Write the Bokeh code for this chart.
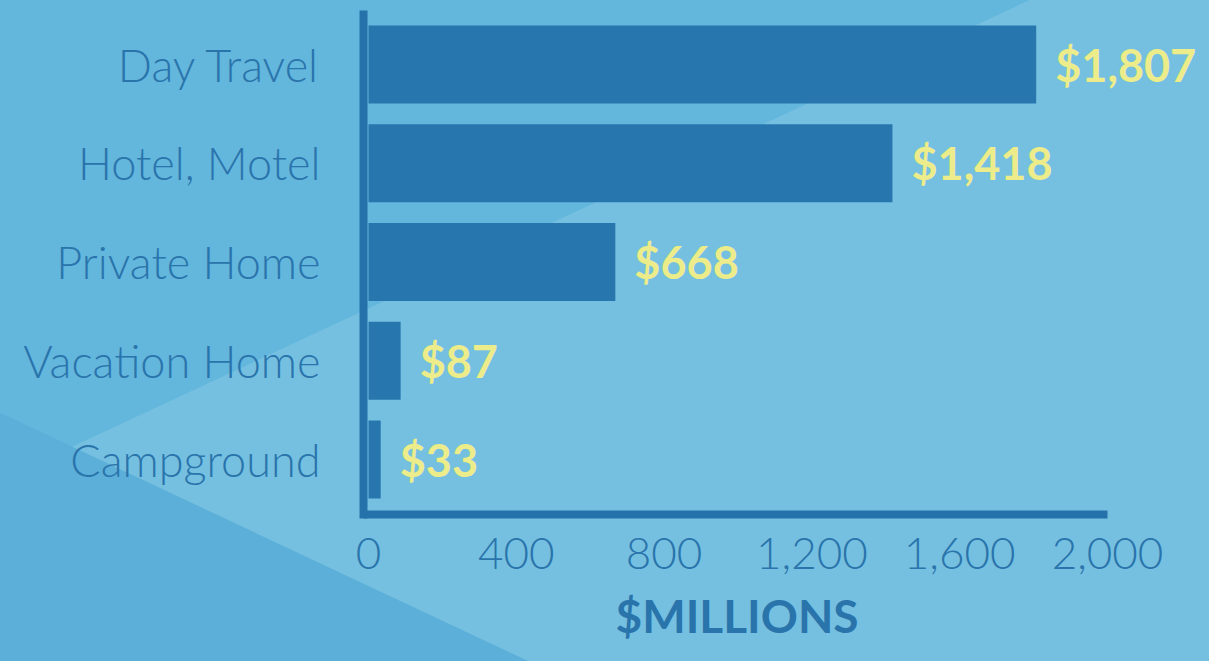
import base64
from bokeh.plotting import figure
from bokeh.models import Range1d, FixedTicker, NumeralTickFormatter, ColumnDataSource, Title
from bokeh.core.properties import value
from bokeh.embed import file_html
from bokeh.resources import INLINE

# ---------------- data ----------------
categories = ["Day Travel", "Hotel, Motel", "Private Home", "Vacation Home", "Campground"]
spending = [1807, 1418, 668, 87, 33]
value_labels = ["$1,807", "$1,418", "$668", "$87", "$33"]
x_ticks = [0, 400, 800, 1200, 1600, 2000]
axis_title = "$MILLIONS"

# ---------------- styling / layout ----------------
W, H = 1209, 661
BAR = "#2876ae"
AXIS = "#2572aa"
TXT = "#2a74ac"
YELLOW = "#ecec8a"
LIGHT_FONT = "'Lato Light', Lato"

frame_left = 363          # canvas px
frame_bottom = 514        # canvas px from top
px_per_unit = 0.3695
zero_px = 368             # canvas px of value 0
x_start = -(zero_px - frame_left) / px_per_unit
x_end = x_start + (W - frame_left) / px_per_unit

row_pitch = 98.75
bottom_row_center = 459
y_start = -(frame_bottom - bottom_row_center) / row_pitch
y_end = y_start + frame_bottom / row_pitch
y_axis_top = y_start + (frame_bottom - 14) / row_pitch

n = len(categories)
ypos = [n - 1 - i for i in range(n)]
source = ColumnDataSource(dict(y=ypos, v=spending, lab=value_labels))

p = figure(width=W, height=H, x_range=Range1d(x_start, x_end), y_range=Range1d(y_start, y_end),
           output_backend="svg", toolbar_location=None, title=None,
           min_border_left=frame_left, min_border_right=0, min_border_top=0,
           min_border_bottom=H - frame_bottom,
           border_fill_color=None, background_fill_color=None, outline_line_color=None)

# background decoration (CSS behind transparent canvas)
bg_svg = f'''<svg xmlns="http://www.w3.org/2000/svg" width="{W}" height="{H}" viewBox="0 0 {W} {H}">
<rect x="0" y="0" width="{W}" height="{H}" fill="#75c0e0"/>
<polygon points="-10,-10 1051,-10 -10,485" fill="#63b6dc"/>
<polygon points="-10,408 560,676 -10,676" fill="#5cafd8"/>
</svg>'''
b64 = base64.b64encode(bg_svg.encode()).decode()
p.styles = {"background-image": f"url('data:image/svg+xml;base64,{b64}')",
            "background-size": "100% 100%", "background-repeat": "no-repeat"}

p.xgrid.grid_line_color = None
p.ygrid.grid_line_color = None

p.hbar(y="y", left=0, right="v", height=0.79, source=source, fill_color=BAR, line_color=None)

p.text(x="v", y="y", text="lab", source=source, x_offset=19, text_align="left",
       text_baseline="middle", text_font=value("Lato"), text_font_style="bold",
       text_font_size="45px", text_color=YELLOW)

# x axis
xa = p.xaxis[0]
xa.ticker = FixedTicker(ticks=x_ticks)
xa.formatter = NumeralTickFormatter(format="0,0")
xa.bounds = (x_start, x_ticks[-1])
xa.axis_line_width = 8
xa.axis_line_color = AXIS
xa.major_tick_line_color = None
xa.minor_tick_line_color = None
xa.major_tick_out = 0
xa.major_tick_in = 0
xa.major_label_standoff = 23
xa.major_label_text_font = LIGHT_FONT
xa.major_label_text_font_size = "44px"
xa.major_label_text_color = TXT

# axis title, centred under the 0..2000 span
p.add_layout(Title(text=axis_title, align="left", offset=252, standoff=32,
                   vertical_align="top",
                   text_font="Lato", text_font_style="bold", text_font_size="46px",
                   text_color=TXT), "below")

# y axis
ya = p.yaxis[0]
ya.ticker = FixedTicker(ticks=ypos)
ya.major_label_overrides = {y: c for y, c in zip(ypos, categories)}
ya.bounds = (y_start, y_axis_top)
ya.axis_line_width = 8
ya.axis_line_color = AXIS
ya.axis_line_cap = "square"
ya.major_tick_line_color = None
ya.minor_tick_line_color = None
ya.major_tick_out = 0
ya.major_tick_in = 0
ya.major_label_standoff = 43
ya.major_label_text_font = LIGHT_FONT
ya.major_label_text_font_size = "45px"
ya.major_label_text_color = TXT

open("out.html", "w").write(file_html(p, INLINE))
